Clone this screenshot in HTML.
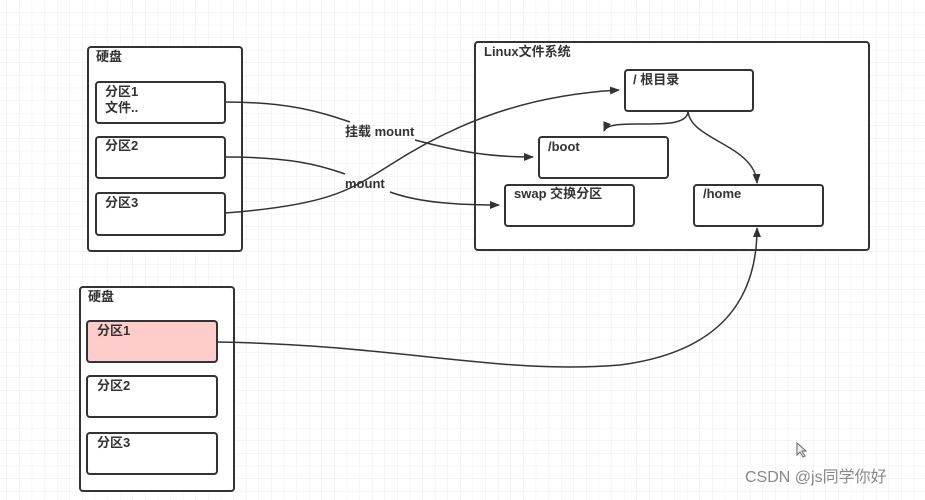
<!DOCTYPE html>
<html><head><meta charset="utf-8"><style>
html,body{margin:0;padding:0;background:#fff;}
svg{display:block;}
text{font-family:"Liberation Sans","Noto Sans CJK SC",sans-serif;font-weight:bold;font-size:13px;fill:#333;}
</style></head><body>
<svg width="925" height="500" viewBox="0 0 925 500" xmlns="http://www.w3.org/2000/svg">
<defs>
<pattern id="g" width="12.6" height="12.6" patternUnits="userSpaceOnUse" x="7" y="0">
<path d="M12.6 0V12.6M0 12.6H12.6" fill="none" stroke="#ebebeb" stroke-width="1"/>
</pattern>
<marker id="a" markerWidth="10" markerHeight="10" refX="9" refY="5" orient="auto" markerUnits="userSpaceOnUse">
<path d="M0,1 L10,5 L0,9 Z" fill="#333"/>
</marker>
</defs>
<rect width="925" height="500" fill="url(#g)"/>
<g fill="#fff" stroke="#333" stroke-width="2">
<rect x="88" y="47" width="154" height="204" rx="3"/>
<rect x="96" y="82" width="129" height="41" rx="3"/>
<rect x="96" y="137" width="129" height="41" rx="3"/>
<rect x="96" y="193" width="129" height="42" rx="3"/>
<rect x="80" y="287" width="154" height="204" rx="3"/>
<rect x="87" y="321" width="130" height="41" rx="3" fill="#ffcccc"/>
<rect x="87" y="376" width="130" height="41" rx="3"/>
<rect x="87" y="433" width="130" height="41" rx="3"/>
<rect x="475" y="42" width="394" height="208" rx="3"/>
<rect x="625" y="70" width="128" height="41" rx="3"/>
<rect x="539" y="137" width="129" height="41" rx="3"/>
<rect x="505" y="185" width="129" height="41" rx="3"/>
<rect x="694" y="185" width="129" height="41" rx="3"/>
</g>
<g fill="none" stroke="#333" stroke-width="1.5">
<path d="M225,102 C290,102 320,112 350,122"/>
<path d="M415,140 C460,152 490,157 533,157" marker-end="url(#a)"/>
<path d="M225,157 C290,157 320,165 345,174"/>
<path d="M390,192 C420,203 460,205 499,205" marker-end="url(#a)"/>
<path d="M225,213 C330,205 350,190 390,165 C460,120 530,95 619,90" marker-end="url(#a)"/>
<path d="M688,111 C688,135 610,115 604,131" marker-end="url(#a)"/>
<path d="M688,111 C690,140 755,145 757,183" marker-end="url(#a)"/>
<path d="M217,342 C400,345 500,375 620,365 C720,352 757,300 757,228" marker-end="url(#a)"/>
</g>
<text x="96" y="61">硬盘</text>
<text x="105" y="96">分区1</text>
<text x="105" y="112">文件..</text>
<text x="105" y="150">分区2</text>
<text x="105" y="207">分区3</text>
<text x="88" y="301">硬盘</text>
<text x="97" y="335">分区1</text>
<text x="97" y="390">分区2</text>
<text x="97" y="447">分区3</text>
<text x="345" y="136">挂载 mount</text>
<text x="345" y="188">mount</text>
<text x="484" y="56">Linux文件系统</text>
<text x="633" y="84">/ 根目录</text>
<text x="548" y="151">/boot</text>
<text x="514" y="198">swap 交换分区</text>
<text x="703" y="198">/home</text>
<path d="M797,443 L797,455 L800,452 L803,457 L805,456 L802,451 L806,451 Z" fill="#eee" stroke="#666" stroke-width="1"/>
<text x="745" y="482" style="font-weight:normal;font-size:16px;fill:#888;">CSDN @js同学你好</text>
</svg>
</body></html>
